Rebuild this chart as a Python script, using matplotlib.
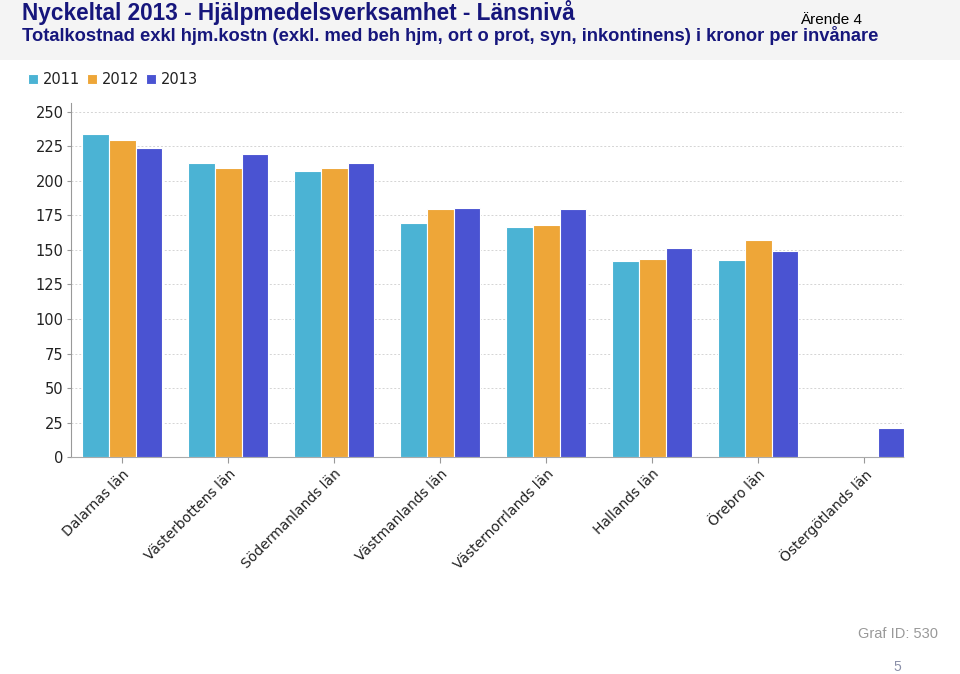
import matplotlib
matplotlib.use("Agg")
import matplotlib.pyplot as plt
from matplotlib.patches import Rectangle
import numpy as np

categories = ["Dalarnas län", "Västerbottens län", "Södermanlands län", "Västmanlands län",
              "Västernorrlands län", "Hallands län", "Örebro län", "Östergötlands län"]
series_names = ["2011", "2012", "2013"]
values_2011 = [234, 212.5, 207, 169.5, 166.5, 142, 142.5, np.nan]
values_2012 = [229.5, 209.5, 209, 179.5, 168, 143.5, 157.5, np.nan]
values_2013 = [224, 219, 213, 180, 179.5, 151.5, 149, 21.5]
yticks = [0, 25, 50, 75, 100, 125, 150, 175, 200, 225, 250]

colors = ["#4bb3d4", "#eea638", "#4a53d2"]

fig = plt.figure(figsize=(9.6, 6.74), dpi=100)

# header band
fig.patches.append(Rectangle((0, 1 - 60 / 674), 1, 60 / 674, transform=fig.transFigure,
                             facecolor="#f4f4f4", edgecolor="none", zorder=0))

title_font = ["Liberation Sans", "DejaVu Sans"]
navy = "#16167c"
fig.text(22 / 960, 1 - 20 / 674, "Nyckeltal 2013 - Hjälpmedelsverksamhet - Länsnivå",
         fontsize=16.3, fontweight="bold", color=navy, family=title_font, va="baseline", ha="left")
fig.text(22 / 960, 1 - 41 / 674,
         "Totalkostnad exkl hjm.kostn (exkl. med beh hjm, ort o prot, syn, inkontinens) i kronor per invånare",
         fontsize=13.2, fontweight="bold", color=navy, family=title_font, va="baseline", ha="left")
fig.text(800 / 960, 1 - 24 / 674, "Ärende 4", fontsize=11, color="black",
         family=title_font, va="baseline", ha="left")

ax = fig.add_axes([70.7 / 960, 1 - 457.3 / 674, (904 - 70.7) / 960, (457.3 - 103.3) / 674])

x = np.arange(len(categories))
width = 0.25
offsets = [-0.253, 0, 0.253]
all_vals = [values_2011, values_2012, values_2013]
for vals, off, c, name in zip(all_vals, offsets, colors, series_names):
    ax.bar(x + off, vals, width, color=c, edgecolor="white", linewidth=0.8, label=name, zorder=3)

tick_font = ["DejaVu Sans"]
ax.set_xlim(-0.487, 7.374)
ax.set_ylim(0, 256)
ax.set_yticks(yticks)
ax.set_yticklabels([str(t) for t in yticks], fontsize=10.5, color="#222222", family=tick_font)
ax.set_xticks(x)
ax.set_xticklabels(categories, rotation=45, ha="right", rotation_mode="anchor",
                   fontsize=10, color="#222222", family=tick_font)
ax.tick_params(axis="x", length=4, color="#999999", pad=3)
ax.tick_params(axis="y", length=3, color="#999999", pad=2)

ax.grid(axis="y", color="#d4d4d4", linestyle=(0, (2, 2)), linewidth=0.7, zorder=0)
for s in ["top", "right"]:
    ax.spines[s].set_visible(False)
ax.spines["left"].set_color("#999999")
ax.spines["bottom"].set_color("#aaaaaa")
ax.spines["bottom"].set_linestyle((0, (2, 1)))

leg = fig.legend(loc="upper left", bbox_to_anchor=(22 / 960, 1 - 66 / 674), ncol=3, frameon=False,
                 handlelength=0.7, handleheight=0.7, handletextpad=0.3, columnspacing=0.5,
                 borderaxespad=0, prop={"family": tick_font, "size": 10.5})
for t in leg.get_texts():
    t.set_color("#222222")

fig.text(938 / 960, 1 - 638 / 674, "Graf ID: 530", fontsize=10.5, color="#999999",
         family=title_font, ha="right", va="baseline")
fig.text(897 / 960, 1 - 671 / 674, "5", fontsize=10, color="#8a8fa8",
         family=title_font, ha="center", va="baseline")

fig.savefig("out.png", dpi=100)
